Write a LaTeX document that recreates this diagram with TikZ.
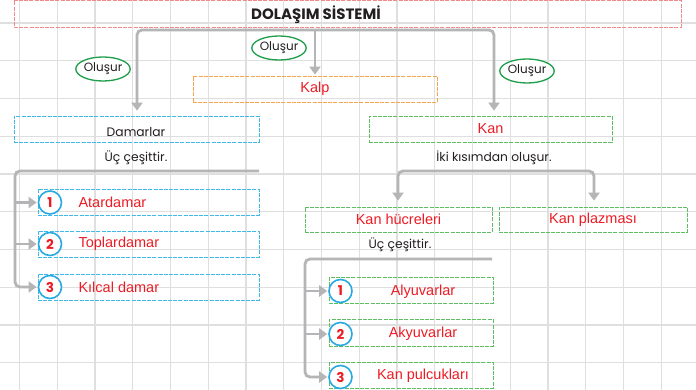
\documentclass[tikz,border=0pt]{standalone}
\usepackage{fontspec}
\setmainfont{Liberation Sans}
\newfontfamily\hand{Poppins}
\usetikzlibrary{arrows.meta,shapes.geometric}
\definecolor{gridc}{HTML}{DFDFDF}
\definecolor{connc}{HTML}{B5B5B7}
\definecolor{txtred}{HTML}{ED1C24}
\definecolor{txtdark}{HTML}{231F20}
\definecolor{bred}{HTML}{F08A8A}
\definecolor{borange}{HTML}{F7A350}
\definecolor{bblue}{HTML}{3DB9EC}
\definecolor{bgreen}{HTML}{5DBE62}
\definecolor{egreen}{HTML}{1E9E4A}
\definecolor{cblue}{HTML}{27A9E1}
\begin{document}
\begin{tikzpicture}[x=1pt,y=-1pt,
  dbox/.style={draw=#1, dash pattern=on 4pt off 1.2pt, line width=0.8pt, rectangle, inner sep=0pt},
  redlbl/.style={text=txtred, font=\fontsize{14.5}{16}\selectfont},
  darklbl/.style={text=txtdark, font=\hand\fontsize{12.3}{14}\selectfont},
  conn/.style={draw=connc, line width=2.8pt, rounded corners=5pt},
  tip/.style={-{Triangle[width=11pt,length=8pt]}},
  olus/.style={ellipse, draw=egreen, line width=1.3pt, fill=white, minimum width=54pt, minimum height=24pt, inner sep=0pt, text=txtdark, font=\hand\fontsize{12}{12}\selectfont},
  num/.style={circle, draw=cblue, line width=1.6pt, fill=white, minimum size=23pt, inner sep=0pt, text=txtred, font=\hand\bfseries\fontsize{13.5}{13.5}\selectfont}
]
\useasboundingbox (0,0) rectangle (696,390);
\fill[white] (0,0) rectangle (696,390);
% grid
\foreach \i in {0,...,17} \draw[gridc, line width=1.4pt] ({19.5+37.75*\i},0) -- ({19.5+37.75*\i},390);
\foreach \j in {0,...,9} \draw[gridc, line width=1.4pt] (0,{23+37.75*\j}) -- (696,{23+37.75*\j});

% title
\node[dbox=bred, minimum width=667pt, minimum height=27pt] (titlebox) at (347.5,13.5) {};
\node[text=txtdark, font=\hand\bfseries\fontsize{15}{16}\selectfont] (title) at (316,15) {DOLAŞIM SİSTEMİ};

% main boxes
\node[dbox=borange, minimum width=244pt, minimum height=26pt, redlbl] (kalp) at (315,89) {Kalp};
\node[dbox=bblue, minimum width=245pt, minimum height=26pt] (damarlar) at (136.5,129) {};
\node[darklbl] (damtxt) at (136,132) {Damarlar};
\node[dbox=bgreen, minimum width=243pt, minimum height=26pt, redlbl] (kan) at (490.5,129) {Kan};

% top connectors
\coordinate (jl) at (137,30);
\coordinate (jr) at (494,30);
\coordinate (jk) at (315,30);
\draw[conn, {Triangle[width=11pt,length=8pt]}-{Triangle[width=11pt,length=8pt]}, shorten <=5pt, shorten >=5pt] (jl |- damarlar.north) -- (jl) -- (jr) -- (jr |- kan.north);
\draw[conn, tip, shorten >=1pt] (jk) -- (kalp.north);

% olusur labels
\node[olus] (o1) at (103,69) {Oluşur};
\node[olus] (o2) at (279,48) {Oluşur};
\node[olus] (o3) at (527,71) {Oluşur};

% left side
\node[darklbl] (uc1) at (136,158) {Üç çeşittir.};
\node[dbox=bblue, minimum width=221pt, minimum height=26pt] (a1) at (148.5,202.5) {};
\node[dbox=bblue, minimum width=221pt, minimum height=26pt] (a2) at (148.5,244) {};
\node[dbox=bblue, minimum width=221pt, minimum height=26pt] (a3) at (148.5,287) {};
\node[num] (n1) at (50,202.5) {1};
\node[num] (n2) at (50,244) {2};
\node[num] (n3) at (50,287) {3};
\node[redlbl, anchor=west] (t1) at (75,202.5) {Atardamar};
\node[redlbl, anchor=west] (t2) at (75,244) {Toplardamar};
\node[redlbl, anchor=west] (t3) at (75,287) {Kılcal damar};
\coordinate (lb0) at (259,171);
\coordinate (lb1) at (15,171);
\draw[conn, tip, shorten >=1pt] (lb0) -- (lb1) -- (lb1 |- a3.west) -- (a3.west);
\draw[conn, tip, shorten >=1pt] (lb1 |- a1.west) -- (a1.west);
\draw[conn, tip, shorten >=1pt] (lb1 |- a2.west) -- (a2.west);

% right side
\node[darklbl] (iki) at (494,158) {İki kısımdan oluşur.};
\node[dbox=bgreen, minimum width=187pt, minimum height=25pt, redlbl] (hucre) at (398.5,219.5) {Kan hücreleri};
\node[dbox=bgreen, minimum width=188pt, minimum height=25pt, redlbl] (plazma) at (593,219.5) {Kan plazması};
\coordinate (rb0) at (398,171);
\coordinate (rb1) at (594,171);
\draw[conn, {Triangle[width=11pt,length=8pt]}-{Triangle[width=11pt,length=8pt]}, shorten <=6pt, shorten >=6pt] (rb0 |- hucre.north) -- (rb0) -- (rb1) -- (rb1 |- plazma.north);

\node[darklbl] (uc2) at (400,245) {Üç çeşittir.};
\node[dbox=bgreen, minimum width=164pt, minimum height=26pt] (b1) at (411,290) {};
\node[dbox=bgreen, minimum width=164pt, minimum height=27pt] (b2) at (411,333) {};
\node[dbox=bgreen, minimum width=164pt, minimum height=26pt] (b3) at (411,375) {};
\node[num] (m1) at (340.5,291) {1};
\node[num] (m2) at (340.5,334) {2};
\node[num] (m3) at (340.5,377) {3};
\node[redlbl] (s1) at (423,292) {Alyuvarlar};
\node[redlbl] (s2) at (423,334) {Akyuvarlar};
\node[redlbl] (s3) at (423,376) {Kan pulcukları};
\coordinate (rr0) at (492,259);
\coordinate (rr1) at (305,259);
\coordinate (rr3) at (305,377);
\draw[conn, tip, shorten >=1pt] (rr0) -- (rr1) -- (rr3) -- (m3.west);
\draw[conn, tip, shorten >=1pt] (rr1 |- m1.west) -- (m1.west);
\draw[conn, tip, shorten >=1pt] (rr1 |- m2.west) -- (m2.west);
\end{tikzpicture}
\end{document}
